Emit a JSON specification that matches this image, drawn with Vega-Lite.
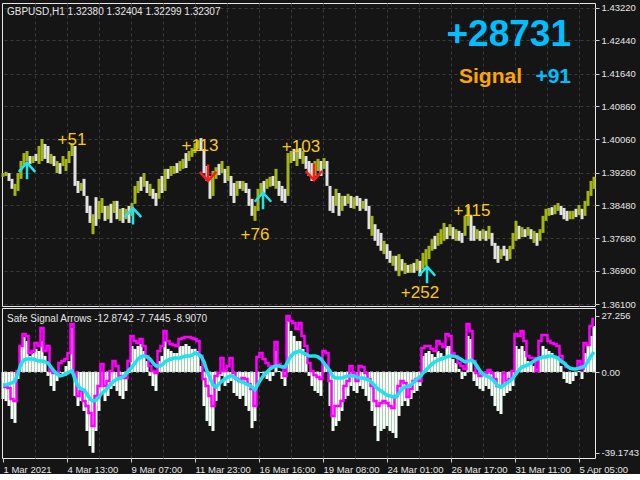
{
"$schema":"https://vega.github.io/schema/vega-lite/v6.json",
"background":"#151515",
"padding":{"left":-5,"top":2,"right":0,"bottom":0},
"autosize":{"type":"pad"},
"bounds":"flush",
"spacing":2,
"config":{"view":{"stroke":"#e8e8e8","strokeWidth":1},"axis":{"labelColor":"#e6e6e6","labelFont":"Liberation Sans","labelFontSize":9.5,"tickColor":"#d0d0d0","gridColor":"#3a3a3a","gridDash":[3,3],"domain":false,"title":null,"labelOverlap":false,"labelFlush":false,"tickCount":40},"concat":{"spacing":2}},
"datasets":{
"px":[
{"i":0,"h":1.3925,"l":1.3916,"c":"g"},{"i":3,"h":1.3928,"l":1.3918,"c":"g"},{"i":6,"h":1.3925,"l":1.3906,"c":"w"},{"i":9,"h":1.3911,"l":1.3887,"c":"w"},{"i":12,"h":1.3899,"l":1.3870,"c":"g"},{"i":15,"h":1.3925,"l":1.3882,"c":"g"},{"i":18,"h":1.3954,"l":1.3911,"c":"g"},{"i":21,"h":1.3973,"l":1.3942,"c":"g"},{"i":24,"h":1.3978,"l":1.3954,"c":"g"},{"i":27,"h":1.3966,"l":1.3947,"c":"w"},
{"i":30,"h":1.3966,"l":1.3949,"c":"g"},{"i":33,"h":1.3971,"l":1.3954,"c":"w"},{"i":36,"h":1.3990,"l":1.3947,"c":"g"},{"i":39,"h":1.4007,"l":1.3954,"c":"g"},{"i":42,"h":1.3995,"l":1.3959,"c":"w"},{"i":45,"h":1.3990,"l":1.3949,"c":"w"},{"i":48,"h":1.3971,"l":1.3947,"c":"g"},{"i":51,"h":1.3966,"l":1.3942,"c":"w"},{"i":54,"h":1.3954,"l":1.3925,"c":"g"},{"i":57,"h":1.3949,"l":1.3923,"c":"w"},
{"i":60,"h":1.3966,"l":1.3942,"c":"g"},{"i":63,"h":1.3959,"l":1.3930,"c":"g"},{"i":66,"h":1.3978,"l":1.3949,"c":"g"},{"i":69,"h":1.3997,"l":1.3966,"c":"g"},{"i":72,"h":1.3990,"l":1.3894,"c":"w"},{"i":75,"h":1.3906,"l":1.3877,"c":"w"},{"i":78,"h":1.3901,"l":1.3882,"c":"g"},{"i":81,"h":1.3911,"l":1.3870,"c":"w"},{"i":84,"h":1.3870,"l":1.3829,"c":"w"},{"i":87,"h":1.3846,"l":1.3805,"c":"w"},
{"i":90,"h":1.3826,"l":1.3778,"c":"g"},{"i":93,"h":1.3867,"l":1.3798,"c":"w"},{"i":96,"h":1.3858,"l":1.3814,"c":"g"},{"i":99,"h":1.3865,"l":1.3829,"c":"g"},{"i":102,"h":1.3846,"l":1.3810,"c":"w"},{"i":105,"h":1.3846,"l":1.3814,"c":"g"},{"i":108,"h":1.3851,"l":1.3805,"c":"w"},{"i":111,"h":1.3858,"l":1.3829,"c":"g"},{"i":114,"h":1.3858,"l":1.3814,"c":"w"},{"i":117,"h":1.3839,"l":1.3810,"c":"g"},
{"i":120,"h":1.3841,"l":1.3805,"c":"w"},{"i":123,"h":1.3839,"l":1.3814,"c":"g"},{"i":126,"h":1.3846,"l":1.3805,"c":"w"},{"i":129,"h":1.3853,"l":1.3822,"c":"g"},{"i":132,"h":1.3894,"l":1.3851,"c":"g"},{"i":135,"h":1.3906,"l":1.3877,"c":"g"},{"i":138,"h":1.3916,"l":1.3882,"c":"w"},{"i":141,"h":1.3925,"l":1.3892,"c":"g"},{"i":144,"h":1.3906,"l":1.3877,"c":"w"},{"i":147,"h":1.3899,"l":1.3870,"c":"g"},
{"i":150,"h":1.3887,"l":1.3863,"c":"w"},{"i":153,"h":1.3877,"l":1.3846,"c":"w"},{"i":156,"h":1.3911,"l":1.3863,"c":"g"},{"i":159,"h":1.3918,"l":1.3877,"c":"w"},{"i":162,"h":1.3935,"l":1.3882,"c":"g"},{"i":165,"h":1.3935,"l":1.3911,"c":"w"},{"i":168,"h":1.3942,"l":1.3918,"c":"g"},{"i":171,"h":1.3942,"l":1.3923,"c":"g"},{"i":174,"h":1.3949,"l":1.3925,"c":"w"},{"i":177,"h":1.3954,"l":1.3930,"c":"g"},
{"i":180,"h":1.3959,"l":1.3935,"c":"g"},{"i":183,"h":1.3973,"l":1.3937,"c":"w"},{"i":186,"h":1.3978,"l":1.3954,"c":"g"},{"i":189,"h":1.3985,"l":1.3964,"c":"g"},{"i":192,"h":1.3997,"l":1.3973,"c":"g"},{"i":195,"h":1.4004,"l":1.3983,"c":"g"},{"i":198,"h":1.4009,"l":1.3978,"c":"w"},{"i":201,"h":1.3983,"l":1.3925,"c":"w"},{"i":204,"h":1.3942,"l":1.3906,"c":"w"},{"i":207,"h":1.3918,"l":1.3863,"c":"w"},
{"i":210,"h":1.3930,"l":1.3870,"c":"g"},{"i":213,"h":1.3939,"l":1.3911,"c":"g"},{"i":216,"h":1.3947,"l":1.3920,"c":"w"},{"i":219,"h":1.3954,"l":1.3925,"c":"g"},{"i":222,"h":1.3935,"l":1.3901,"c":"w"},{"i":225,"h":1.3942,"l":1.3906,"c":"g"},{"i":228,"h":1.3918,"l":1.3870,"c":"w"},{"i":231,"h":1.3901,"l":1.3853,"c":"w"},{"i":234,"h":1.3906,"l":1.3870,"c":"g"},{"i":237,"h":1.3906,"l":1.3887,"c":"w"},
{"i":240,"h":1.3906,"l":1.3882,"c":"g"},{"i":243,"h":1.3901,"l":1.3877,"c":"w"},{"i":246,"h":1.3887,"l":1.3846,"c":"w"},{"i":249,"h":1.3863,"l":1.3822,"c":"w"},{"i":252,"h":1.3846,"l":1.3810,"c":"g"},{"i":255,"h":1.3887,"l":1.3834,"c":"g"},{"i":258,"h":1.3901,"l":1.3870,"c":"g"},{"i":261,"h":1.3906,"l":1.3877,"c":"w"},{"i":264,"h":1.3911,"l":1.3887,"c":"g"},{"i":267,"h":1.3916,"l":1.3892,"c":"g"},
{"i":270,"h":1.3918,"l":1.3894,"c":"w"},{"i":273,"h":1.3935,"l":1.3887,"c":"g"},{"i":276,"h":1.3906,"l":1.3870,"c":"w"},{"i":279,"h":1.3894,"l":1.3858,"c":"w"},{"i":282,"h":1.3887,"l":1.3853,"c":"w"},{"i":285,"h":1.3973,"l":1.3870,"c":"g"},{"i":288,"h":1.3978,"l":1.3949,"c":"g"},{"i":291,"h":1.3983,"l":1.3954,"c":"w"},{"i":294,"h":1.3983,"l":1.3942,"c":"g"},{"i":297,"h":1.3985,"l":1.3959,"c":"w"},
{"i":300,"h":1.3978,"l":1.3947,"c":"g"},{"i":303,"h":1.3966,"l":1.3935,"c":"w"},{"i":306,"h":1.3954,"l":1.3918,"c":"w"},{"i":309,"h":1.3949,"l":1.3906,"c":"w"},{"i":312,"h":1.3954,"l":1.3918,"c":"g"},{"i":315,"h":1.3959,"l":1.3930,"c":"g"},{"i":318,"h":1.3954,"l":1.3918,"c":"w"},{"i":321,"h":1.3961,"l":1.3935,"c":"g"},{"i":324,"h":1.3954,"l":1.3894,"c":"w"},{"i":327,"h":1.3894,"l":1.3834,"c":"w"},
{"i":330,"h":1.3870,"l":1.3829,"c":"w"},{"i":333,"h":1.3887,"l":1.3846,"c":"g"},{"i":336,"h":1.3877,"l":1.3822,"c":"w"},{"i":339,"h":1.3870,"l":1.3834,"c":"g"},{"i":342,"h":1.3870,"l":1.3846,"c":"w"},{"i":345,"h":1.3875,"l":1.3851,"c":"g"},{"i":348,"h":1.3870,"l":1.3841,"c":"w"},{"i":351,"h":1.3867,"l":1.3839,"c":"g"},{"i":354,"h":1.3870,"l":1.3846,"c":"w"},{"i":357,"h":1.3865,"l":1.3834,"c":"w"},
{"i":360,"h":1.3858,"l":1.3839,"c":"g"},{"i":363,"h":1.3863,"l":1.3834,"c":"w"},{"i":366,"h":1.3846,"l":1.3790,"c":"w"},{"i":369,"h":1.3822,"l":1.3774,"c":"g"},{"i":372,"h":1.3802,"l":1.3762,"c":"w"},{"i":375,"h":1.3790,"l":1.3750,"c":"w"},{"i":378,"h":1.3781,"l":1.3738,"c":"w"},{"i":381,"h":1.3762,"l":1.3730,"c":"g"},{"i":384,"h":1.3754,"l":1.3718,"c":"w"},{"i":387,"h":1.3738,"l":1.3709,"c":"w"},
{"i":390,"h":1.3726,"l":1.3702,"c":"g"},{"i":393,"h":1.3726,"l":1.3690,"c":"w"},{"i":396,"h":1.3730,"l":1.3677,"c":"g"},{"i":399,"h":1.3718,"l":1.3690,"c":"w"},{"i":402,"h":1.3709,"l":1.3682,"c":"g"},{"i":405,"h":1.3704,"l":1.3685,"c":"w"},{"i":408,"h":1.3706,"l":1.3685,"c":"g"},{"i":411,"h":1.3709,"l":1.3685,"c":"w"},{"i":414,"h":1.3718,"l":1.3690,"c":"g"},{"i":417,"h":1.3714,"l":1.3677,"c":"w"},
{"i":420,"h":1.3733,"l":1.3694,"c":"g"},{"i":423,"h":1.3742,"l":1.3702,"c":"g"},{"i":426,"h":1.3750,"l":1.3718,"c":"g"},{"i":429,"h":1.3766,"l":1.3738,"c":"g"},{"i":432,"h":1.3774,"l":1.3742,"c":"w"},{"i":435,"h":1.3781,"l":1.3750,"c":"g"},{"i":438,"h":1.3790,"l":1.3754,"c":"g"},{"i":441,"h":1.3805,"l":1.3762,"c":"g"},{"i":444,"h":1.3795,"l":1.3766,"c":"w"},{"i":447,"h":1.3802,"l":1.3774,"c":"g"},
{"i":450,"h":1.3795,"l":1.3766,"c":"w"},{"i":453,"h":1.3790,"l":1.3762,"c":"g"},{"i":456,"h":1.3786,"l":1.3762,"c":"w"},{"i":459,"h":1.3781,"l":1.3757,"c":"w"},{"i":462,"h":1.3822,"l":1.3774,"c":"g"},{"i":465,"h":1.3846,"l":1.3798,"c":"g"},{"i":468,"h":1.3822,"l":1.3762,"c":"w"},{"i":471,"h":1.3798,"l":1.3762,"c":"w"},{"i":474,"h":1.3790,"l":1.3766,"c":"g"},{"i":477,"h":1.3786,"l":1.3762,"c":"w"},
{"i":480,"h":1.3790,"l":1.3766,"c":"g"},{"i":483,"h":1.3786,"l":1.3762,"c":"w"},{"i":486,"h":1.3798,"l":1.3766,"c":"g"},{"i":489,"h":1.3781,"l":1.3750,"c":"w"},{"i":492,"h":1.3757,"l":1.3718,"c":"w"},{"i":495,"h":1.3750,"l":1.3709,"c":"w"},{"i":498,"h":1.3742,"l":1.3718,"c":"g"},{"i":501,"h":1.3750,"l":1.3726,"c":"w"},{"i":504,"h":1.3742,"l":1.3714,"c":"w"},{"i":507,"h":1.3750,"l":1.3718,"c":"g"},
{"i":510,"h":1.3781,"l":1.3742,"c":"g"},{"i":513,"h":1.3810,"l":1.3762,"c":"g"},{"i":516,"h":1.3798,"l":1.3766,"c":"w"},{"i":519,"h":1.3795,"l":1.3771,"c":"g"},{"i":522,"h":1.3790,"l":1.3771,"c":"w"},{"i":525,"h":1.3795,"l":1.3774,"c":"g"},{"i":528,"h":1.3790,"l":1.3766,"c":"w"},{"i":531,"h":1.3786,"l":1.3757,"c":"g"},{"i":534,"h":1.3781,"l":1.3750,"c":"w"},{"i":537,"h":1.3790,"l":1.3762,"c":"g"},
{"i":540,"h":1.3822,"l":1.3781,"c":"g"},{"i":543,"h":1.3839,"l":1.3810,"c":"g"},{"i":546,"h":1.3841,"l":1.3822,"c":"g"},{"i":549,"h":1.3843,"l":1.3824,"c":"w"},{"i":552,"h":1.3848,"l":1.3826,"c":"g"},{"i":555,"h":1.3853,"l":1.3834,"c":"g"},{"i":558,"h":1.3846,"l":1.3824,"c":"w"},{"i":561,"h":1.3841,"l":1.3814,"c":"w"},{"i":564,"h":1.3834,"l":1.3810,"c":"w"},{"i":567,"h":1.3834,"l":1.3814,"c":"g"},
{"i":570,"h":1.3834,"l":1.3814,"c":"g"},{"i":573,"h":1.3839,"l":1.3819,"c":"w"},{"i":576,"h":1.3848,"l":1.3824,"c":"g"},{"i":579,"h":1.3839,"l":1.3814,"c":"w"},{"i":582,"h":1.3858,"l":1.3822,"c":"g"},{"i":585,"h":1.3882,"l":1.3846,"c":"g"},{"i":588,"h":1.3906,"l":1.3870,"c":"g"},{"i":591,"h":1.3916,"l":1.3887,"c":"g"}
],
"ind":[
{"i":0,"m":-6.8,"c":-6.3,"v":-13.1},{"i":3,"m":-7.3,"c":-6.3,"v":-14.1},{"i":6,"m":-7.8,"c":-5.8,"v":-16.5},{"i":9,"m":-13.1,"c":-5.3,"v":-22.8},{"i":12,"m":-14.1,"c":-4.4,"v":-24.7},{"i":15,"m":0.5,"c":-0.5,"v":-3.4},{"i":18,"m":12.6,"c":3.9,"v":12.6},{"i":21,"m":18.4,"c":5.8,"v":17.0},{"i":24,"m":17.5,"c":6.3,"v":15.0},{"i":27,"m":9.2,"c":6.3,"v":7.8},
{"i":30,"m":10.2,"c":6.3,"v":9.2},{"i":33,"m":14.1,"c":5.8,"v":11.2},{"i":36,"m":12.6,"c":5.3,"v":10.2},{"i":39,"m":21.3,"c":5.3,"v":15.0},{"i":42,"m":10.2,"c":4.9,"v":7.8},{"i":45,"m":12.6,"c":4.4,"v":-1.9},{"i":48,"m":0.5,"c":2.4,"v":-6.8},{"i":51,"m":-0.5,"c":0.5,"v":-9.2},{"i":54,"m":-0.5,"c":-1.0,"v":-4.4},{"i":57,"m":4.4,"c":-1.9,"v":-0.5},
{"i":60,"m":5.3,"c":-1.5,"v":-1.9},{"i":63,"m":6.3,"c":-1.0,"v":2.9},{"i":66,"m":9.2,"c":0,"v":5.3},{"i":69,"m":23.3,"c":0.5,"v":21.3},{"i":72,"m":-0.5,"c":-3.4,"v":-11.6},{"i":75,"m":-11.6,"c":-6.8,"v":-16.5},{"i":78,"m":-9.2,"c":-8.2,"v":-14.1},{"i":81,"m":-14.1,"c":-8.7,"v":-18.9},{"i":84,"m":-16.5,"c":-10.7,"v":-28.6},{"i":87,"m":-19.9,"c":-13.1,"v":-35.9},
{"i":90,"m":-26.2,"c":-14.1,"v":-39.17},{"i":93,"m":-11.6,"c":-13.6,"v":-28.6},{"i":96,"m":-6.8,"c":-12.1,"v":-18.9},{"i":99,"m":3.9,"c":-10.2,"v":-10.2},{"i":102,"m":-6.8,"c":-9.2,"v":-14.1},{"i":105,"m":-4.4,"c":-7.3,"v":-11.6},{"i":108,"m":0.5,"c":-5.8,"v":-8.2},{"i":111,"m":5.3,"c":-4.4,"v":-6.8},{"i":114,"m":2.9,"c":-3.4,"v":-9.2},{"i":117,"m":-1.9,"c":-2.9,"v":-11.6},
{"i":120,"m":-2.9,"c":-2.4,"v":-13.1},{"i":123,"m":-2.9,"c":-1.0,"v":-9.2},{"i":126,"m":5.3,"c":1.0,"v":-0.5},{"i":129,"m":17.5,"c":2.4,"v":12.6},{"i":132,"m":15.0,"c":4.4,"v":11.2},{"i":135,"m":14.1,"c":6.3,"v":12.6},{"i":138,"m":16.0,"c":7.3,"v":13.6},{"i":141,"m":12.6,"c":7.8,"v":10.2},{"i":144,"m":7.8,"c":7.3,"v":5.3},{"i":147,"m":2.9,"c":6.3,"v":-1.9},
{"i":150,"m":0.5,"c":4.4,"v":-6.8},{"i":153,"m":-0.5,"c":2.9,"v":-9.2},{"i":156,"m":10.2,"c":2.9,"v":5.3},{"i":159,"m":12.6,"c":3.4,"v":7.8},{"i":162,"m":19.9,"c":4.9,"v":15.0},{"i":165,"m":15.0,"c":5.8,"v":11.2},{"i":168,"m":13.6,"c":6.3,"v":10.2},{"i":171,"m":13.1,"c":6.8,"v":9.2},{"i":174,"m":12.6,"c":6.8,"v":9.2},{"i":177,"m":16.0,"c":6.8,"v":12.6},
{"i":180,"m":16.5,"c":7.3,"v":12.6},{"i":183,"m":17.0,"c":7.8,"v":13.6},{"i":186,"m":17.0,"c":7.8,"v":12.6},{"i":189,"m":16.5,"c":8.2,"v":11.2},{"i":192,"m":16.0,"c":9.2,"v":11.2},{"i":195,"m":15.0,"c":8.7,"v":10.2},{"i":198,"m":7.8,"c":7.8,"v":2.9},{"i":201,"m":-3.4,"c":4.9,"v":-16.5},{"i":204,"m":-6.8,"c":0.5,"v":-23.8},{"i":207,"m":-11.6,"c":-2.9,"v":-26.2},
{"i":210,"m":-16.5,"c":-6.3,"v":-28.6},{"i":213,"m":-1.9,"c":-7.3,"v":-14.1},{"i":216,"m":-0.5,"c":-5.8,"v":-9.2},{"i":219,"m":6.8,"c":-4.4,"v":-1.9},{"i":222,"m":0.5,"c":-3.4,"v":-6.8},{"i":225,"m":2.9,"c":-2.4,"v":-5.3},{"i":228,"m":6.8,"c":-1.9,"v":-4.4},{"i":231,"m":-0.5,"c":-2.4,"v":-10.2},{"i":234,"m":-3.4,"c":-3.4,"v":-11.6},{"i":237,"m":-4.4,"c":-4.4,"v":-13.1},
{"i":240,"m":-2.9,"c":-4.9,"v":-11.6},{"i":243,"m":-3.4,"c":-5.8,"v":-16.5},{"i":246,"m":-5.8,"c":-6.3,"v":-18.9},{"i":249,"m":-8.2,"c":-7.3,"v":-27.2},{"i":252,"m":-16.5,"c":-8.7,"v":-23.8},{"i":255,"m":7.3,"c":-5.8,"v":-4.4},{"i":258,"m":9.2,"c":-3.4,"v":-0.5},{"i":261,"m":6.3,"c":-1.5,"v":-1.9},{"i":264,"m":4.4,"c":0,"v":-3.4},{"i":267,"m":2.9,"c":1.5,"v":-4.4},
{"i":270,"m":2.9,"c":2.4,"v":-1.9},{"i":273,"m":14.6,"c":2.9,"v":10.2},{"i":276,"m":3.9,"c":2.9,"v":0.5},{"i":279,"m":2.9,"c":2.4,"v":-3.4},{"i":282,"m":-1.9,"c":2.4,"v":-6.8},{"i":285,"m":27.2,"c":5.3,"v":24.7},{"i":288,"m":24.7,"c":7.8,"v":19.9},{"i":291,"m":23.8,"c":9.2,"v":17.5},{"i":294,"m":20.9,"c":9.7,"v":15.0},{"i":297,"m":23.8,"c":10.2,"v":15.0},
{"i":300,"m":17.5,"c":9.2,"v":11.2},{"i":303,"m":12.6,"c":8.7,"v":7.8},{"i":306,"m":4.4,"c":7.8,"v":-1.9},{"i":309,"m":0.5,"c":7.8,"v":-6.8},{"i":312,"m":-1.5,"c":7.8,"v":-9.2},{"i":315,"m":-2.4,"c":7.3,"v":-10.2},{"i":318,"m":-3.4,"c":6.3,"v":-11.6},{"i":321,"m":10.2,"c":4.4,"v":4.4},{"i":324,"m":9.2,"c":2.4,"v":2.9},{"i":327,"m":-4.4,"c":0.5,"v":-16.5},
{"i":330,"m":-21.3,"c":-2.4,"v":-28.6},{"i":333,"m":-16.5,"c":-2.9,"v":-26.2},{"i":336,"m":-16.5,"c":-2.9,"v":-23.8},{"i":339,"m":-14.1,"c":-2.9,"v":-18.9},{"i":342,"m":-6.8,"c":-2.4,"v":-13.1},{"i":345,"m":-4.4,"c":-1.9,"v":-11.6},{"i":348,"m":2.9,"c":-1.9,"v":-6.8},{"i":351,"m":-0.5,"c":-1.9,"v":-9.2},{"i":354,"m":-4.4,"c":-2.4,"v":-10.2},{"i":357,"m":2.9,"c":-2.9,"v":-6.8},
{"i":360,"m":2.4,"c":-2.9,"v":-8.2},{"i":363,"m":-0.5,"c":-3.4,"v":-11.6},{"i":366,"m":-3.4,"c":-3.9,"v":-14.1},{"i":369,"m":-6.8,"c":-5.3,"v":-18.9},{"i":372,"m":-14.1,"c":-6.8,"v":-26.2},{"i":375,"m":-16.5,"c":-8.2,"v":-33.5},{"i":378,"m":-15.0,"c":-9.2,"v":-28.6},{"i":381,"m":-14.1,"c":-10.2,"v":-27.6},{"i":384,"m":-15.0,"c":-11.2,"v":-26.2},{"i":387,"m":-16.5,"c":-11.6,"v":-28.6},
{"i":390,"m":-17.5,"c":-12.1,"v":-29.6},{"i":393,"m":-11.6,"c":-12.1,"v":-32.0},{"i":396,"m":-6.8,"c":-10.2,"v":-21.3},{"i":399,"m":-4.4,"c":-8.2,"v":-16.5},{"i":402,"m":-5.3,"c":-7.3,"v":-14.1},{"i":405,"m":-12.1,"c":-6.8,"v":-16.5},{"i":408,"m":-8.2,"c":-6.3,"v":-13.1},{"i":411,"m":-4.4,"c":-4.9,"v":-10.2},{"i":414,"m":-3.4,"c":-3.4,"v":-9.2},{"i":417,"m":-4.4,"c":-2.4,"v":-6.8},
{"i":420,"m":11.6,"c":-0.5,"v":7.8},{"i":423,"m":12.6,"c":1.0,"v":9.2},{"i":426,"m":12.6,"c":2.4,"v":10.2},{"i":429,"m":11.2,"c":3.9,"v":8.7},{"i":432,"m":10.2,"c":4.9,"v":7.3},{"i":435,"m":15.0,"c":5.8,"v":10.2},{"i":438,"m":13.6,"c":6.3,"v":9.2},{"i":441,"m":12.1,"c":6.8,"v":7.8},{"i":444,"m":18.4,"c":7.3,"v":12.6},{"i":447,"m":17.5,"c":7.8,"v":12.6},
{"i":450,"m":9.2,"c":7.8,"v":6.3},{"i":453,"m":7.8,"c":7.3,"v":4.4},{"i":456,"m":4.4,"c":6.8,"v":1.5},{"i":459,"m":2.9,"c":5.8,"v":-3.4},{"i":462,"m":1.5,"c":4.9,"v":-1.9},{"i":465,"m":23.3,"c":5.3,"v":17.5},{"i":468,"m":19.9,"c":5.8,"v":16.0},{"i":471,"m":5.3,"c":4.9,"v":-4.4},{"i":474,"m":-0.5,"c":2.9,"v":-6.8},{"i":477,"m":-1.9,"c":0.5,"v":-8.2},
{"i":480,"m":-0.5,"c":-1.0,"v":-9.2},{"i":483,"m":-0.5,"c":-1.9,"v":-6.8},{"i":486,"m":1.0,"c":-2.4,"v":-8.2},{"i":489,"m":-0.5,"c":-3.4,"v":-11.6},{"i":492,"m":-3.4,"c":-4.9,"v":-16.5},{"i":495,"m":-6.8,"c":-6.8,"v":-18.9},{"i":498,"m":-6.8,"c":-7.3,"v":-20.4},{"i":501,"m":-0.5,"c":-6.3,"v":-11.6},{"i":504,"m":-4.4,"c":-5.3,"v":-10.2},{"i":507,"m":-3.4,"c":-4.4,"v":-9.2},
{"i":510,"m":0.5,"c":-2.9,"v":-6.8},{"i":513,"m":18.4,"c":-1.0,"v":12.6},{"i":516,"m":17.5,"c":1.0,"v":11.2},{"i":519,"m":19.9,"c":2.4,"v":12.6},{"i":522,"m":15.0,"c":2.9,"v":10.2},{"i":525,"m":7.8,"c":3.4,"v":5.3},{"i":528,"m":6.8,"c":4.4,"v":4.4},{"i":531,"m":6.8,"c":5.3,"v":2.9},{"i":534,"m":0.5,"c":6.3,"v":1.5},{"i":537,"m":15.0,"c":6.8,"v":7.8},
{"i":540,"m":17.9,"c":7.3,"v":12.6},{"i":543,"m":17.9,"c":7.3,"v":11.2},{"i":546,"m":15.0,"c":7.8,"v":10.2},{"i":549,"m":14.1,"c":7.8,"v":9.2},{"i":552,"m":13.6,"c":7.3,"v":7.8},{"i":555,"m":12.6,"c":6.8,"v":6.3},{"i":558,"m":7.8,"c":5.3,"v":2.9},{"i":561,"m":4.4,"c":4.4,"v":-3.4},{"i":564,"m":2.4,"c":2.9,"v":-5.3},{"i":567,"m":1.9,"c":1.9,"v":-5.8},
{"i":570,"m":1.5,"c":1.5,"v":-4.4},{"i":573,"m":1.5,"c":1.5,"v":-1.9},{"i":576,"m":5.3,"c":1.9,"v":0.5},{"i":579,"m":1.5,"c":2.4,"v":-3.4},{"i":582,"m":14.1,"c":2.9,"v":9.2},{"i":585,"m":13.1,"c":5.3,"v":12.6},{"i":588,"m":22.3,"c":7.8,"v":17.5},{"i":591,"m":25.7,"c":9.7,"v":22.3}
],
"arrows":[
{"i":24,"p":1.3930,"d":"up"},{"i":130,"p":1.3821,"d":"up"},{"i":260,"p":1.3858,"d":"up"},{"i":424,"p":1.3680,"d":"up"},{"i":205,"p":1.3926,"d":"dn"},{"i":311,"p":1.3928,"d":"dn"}
],
"labels":[
{"i":69,"p":1.4004,"t":"+51"},{"i":197,"p":1.3990,"t":"+113"},{"i":298,"p":1.3988,"t":"+103"},{"i":252,"p":1.3776,"t":"+76"},{"i":469,"p":1.3834,"t":"+115"},{"i":417,"p":1.3637,"t":"+252"}
]
},
"vconcat":[
{
"width":593,"height":303,
"layer":[
{"data":{"name":"px"},"mark":{"type":"rule","strokeWidth":3},
"encoding":{
"x":{"field":"i","type":"quantitative","scale":{"domain":[-1,592],"nice":false,"zero":false},"axis":{"orient":"top","values":[32,64,96,128,160,192,224,256,288,320,352,384,416,448,480,512,544,576],"tickCount":40,"grid":true,"ticks":false,"labels":false,"domain":false,"title":null}},
"y":{"field":"h","type":"quantitative","scale":{"domain":[1.36052,1.4334],"nice":false,"zero":false},"axis":{"orient":"right","values":[1.4322,1.4244,1.4164,1.4086,1.4006,1.3926,1.3848,1.3768,1.369,1.361],"tickCount":40,"format":".5f","grid":true,"tickSize":4,"labelPadding":2,"labelOverlap":false,"title":null}},
"y2":{"field":"l"},
"color":{"field":"c","type":"nominal","scale":{"domain":["g","w"],"range":["#a2b510","#e2e2e2"]},"legend":null}}},
{"data":{"name":"arrows"},"mark":{"type":"point","filled":false,"strokeWidth":2.5,"size":272,"opacity":1},
"encoding":{
"x":{"field":"i","type":"quantitative"},
"y":{"field":"p","type":"quantitative"},
"shape":{"field":"d","type":"nominal","scale":{"domain":["up","dn"],"range":["M0,-1L0,1M-1,0.1L0,-1L1,0.1","M0,1L0,-1M-1,-0.1L0,1L1,-0.1"]},"legend":null},
"stroke":{"field":"d","type":"nominal","scale":{"domain":["up","dn"],"range":["#1ee6ea","#ff1a1a"]},"legend":null}}},
{"data":{"name":"labels"},"mark":{"type":"text","align":"center","baseline":"middle","font":"Liberation Sans","fontSize":17,"color":"#fcc916"},
"encoding":{"x":{"field":"i","type":"quantitative"},"y":{"field":"p","type":"quantitative"},"text":{"field":"t"}}},
{"data":{"values":[{"i":4,"p":1.4305,"t":"GBPUSD,H1  1.32380 1.32404 1.32299 1.32307"}]},"mark":{"type":"text","align":"left","baseline":"alphabetic","font":"Liberation Sans","fontSize":10,"color":"#e6e6e6"},
"encoding":{"x":{"field":"i","type":"quantitative"},"y":{"field":"p","type":"quantitative"},"text":{"field":"t"}}},
{"data":{"values":[{"i":568,"p":1.4231,"t":"+28731"}]},"mark":{"type":"text","align":"right","baseline":"alphabetic","font":"Liberation Sans","fontWeight":"bold","fontSize":37,"color":"#00bfff"},
"encoding":{"x":{"field":"i","type":"quantitative"},"y":{"field":"p","type":"quantitative"},"text":{"field":"t"}}},
{"data":{"values":[{"i":519,"p":1.4142,"t":"Signal"}]},"mark":{"type":"text","align":"right","baseline":"alphabetic","font":"Liberation Sans","fontWeight":"bold","fontSize":21,"color":"#ffa500"},
"encoding":{"x":{"field":"i","type":"quantitative"},"y":{"field":"p","type":"quantitative"},"text":{"field":"t"}}},
{"data":{"values":[{"i":568,"p":1.4142,"t":"+91"}]},"mark":{"type":"text","align":"right","baseline":"alphabetic","font":"Liberation Sans","fontWeight":"bold","fontSize":21,"color":"#00bfff"},
"encoding":{"x":{"field":"i","type":"quantitative"},"y":{"field":"p","type":"quantitative"},"text":{"field":"t"}}}
]
},
{
"width":593,"height":150,
"resolve":{"axis":{"x":"independent"}},
"layer":[
{"data":{"name":"ind"},"mark":{"type":"rule","strokeWidth":3,"color":"#f2fff4"},
"encoding":{
"x":{"field":"i","type":"quantitative","scale":{"domain":[-1,592],"nice":false,"zero":false},"axis":{"orient":"top","values":[32,64,96,128,160,192,224,256,288,320,352,384,416,448,480,512,544,576],"tickCount":40,"grid":true,"ticks":false,"labels":false,"domain":false,"title":null}},
"y":{"field":"v","type":"quantitative","scale":{"domain":[-41.71,31.04],"nice":false,"zero":false},"axis":{"orient":"right","values":[27.256,0,-39.1743],"tickCount":40,"labelExpr":"datum.value == 0 ? '0.00' : (datum.value > 0 ? '27.256' : '-39.1743')","grid":false,"tickSize":4,"labelPadding":2,"labelOverlap":false,"title":null}},
"y2":{"datum":0}}},
{"data":{"values":[{}]},"mark":{"type":"rule","color":"#c8c8c8","strokeDash":[3,3],"strokeWidth":1},
"encoding":{"y":{"datum":0,"type":"quantitative"}}},
{"data":{"name":"ind"},"mark":{"type":"line","color":"#ff00ff","strokeWidth":2.5,"interpolate":"step"},
"encoding":{
"x":{"field":"i","type":"quantitative","axis":{"orient":"bottom","values":[0,64,128,192,256,320,384,448,512,576],"tickCount":40,"grid":false,"labelAlign":"left","labelExpr":"['1 Mar 2021','4 Mar 13:00','9 Mar 07:00','11 Mar 23:00','16 Mar 16:00','19 Mar 08:00','24 Mar 01:00','26 Mar 17:00','31 Mar 11:00','5 Apr 05:00'][round(datum.value/64)]","tickSize":4,"labelPadding":2,"title":null}},
"y":{"field":"m","type":"quantitative"}}},
{"data":{"name":"ind"},"mark":{"type":"line","color":"#19e3ec","strokeWidth":3.5},
"encoding":{"x":{"field":"i","type":"quantitative","axis":null},"y":{"field":"c","type":"quantitative"}}},
{"data":{"values":[{"i":4,"p":24.25,"t":"Safe Signal Arrows -12.8742 -7.7445 -8.9070"}]},"mark":{"type":"text","align":"left","baseline":"alphabetic","font":"Liberation Sans","fontSize":10,"color":"#e6e6e6"},
"encoding":{"x":{"field":"i","type":"quantitative","axis":null},"y":{"field":"p","type":"quantitative"},"text":{"field":"t"}}}
]
}
]
}
